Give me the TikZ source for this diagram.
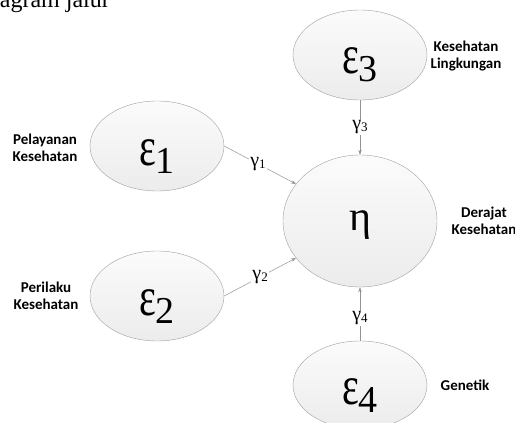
\documentclass[tikz,border=0pt]{standalone}
\usepackage{fontspec}
\setmainfont{Liberation Serif}
\newfontfamily\lblfont{Carlito}
\usetikzlibrary{shapes.geometric}
\usetikzlibrary{arrows.meta}

\tikzset{
	latent/.style={ellipse, draw=gray!75, top color=gray!3, bottom color=gray!15,
		minimum width=134pt, minimum height=90pt, inner sep=0pt,
		text height=38pt, text depth=0pt},
	link/.style={draw=gray!85, line width=0.5pt},
	tip/.style={-{Stealth[length=5pt,width=3.5pt]}},
	gamlbl/.style={fill=white, inner sep=1pt, font=\fontsize{20}{20}\selectfont},
	varlbl/.style={font=\lblfont\bfseries\fontsize{15}{17}\selectfont, align=center}
}
\newcommand{\epsvar}[1]{{\fontsize{50}{50}\selectfont\scalebox{0.8}[1.1]{ε}}{\fontsize{38}{38}\selectfont\raisebox{-8pt}{#1}}}
\newcommand{\gamvar}[1]{γ{\fontsize{13}{13}\selectfont\raisebox{-2pt}{#1}}}

\begin{document}
\begin{tikzpicture}[x=1pt, y=-1pt]
\useasboundingbox (0,0) rectangle (515,423);

% caption line cut off at the top
\begin{scope}
\clip (0,0) rectangle (515,423);
\node[anchor=base east, inner sep=0pt, font=\fontsize{24}{24}\selectfont] (cap) at (110,8) {diagram jalur};
\end{scope}

% latent variables
\node[latent] (e3) at (360,55) {\epsvar{3}};
\node[latent, minimum width=154pt, minimum height=132pt, text height=19pt] (eta) at (360,221) {\fontsize{42}{42}\selectfont η};
\node[latent] (e1) at (157,146) {\epsvar{1}};
\node[latent] (e2) at (157,296) {\epsvar{2}};
\node[latent, minimum height=88pt] (e4) at (360,385) {\epsvar{4}};

% names
\node[varlbl] (n1) at (45,148) {Pelayanan\\Kesehatan};
\node[varlbl] (n2) at (46,296) {Perilaku\\Kesehatan};
\node[varlbl] (n3) at (466,56) {Kesehatan\\Lingkungan};
\node[varlbl] (n0) at (484,221) {Derajat\\Kesehatan};
\node[varlbl] (n4) at (465,385) {Genetik};

% paths
\draw[link, tip] (e1.east) -- node[gamlbl, pos=0.47] {\gamvar{1}} (eta.150);
\draw[link, tip] (e2.east) -- node[gamlbl, pos=0.5] {\gamvar{2}} (eta.210);
\draw[link, tip] (e3.south) -- node[gamlbl, pos=0.5] {\gamvar{3}} (eta.north);
\draw[link, tip] (e4.north) -- node[gamlbl, pos=0.42] {\gamvar{4}} (eta.south);
\end{tikzpicture}
\end{document}
